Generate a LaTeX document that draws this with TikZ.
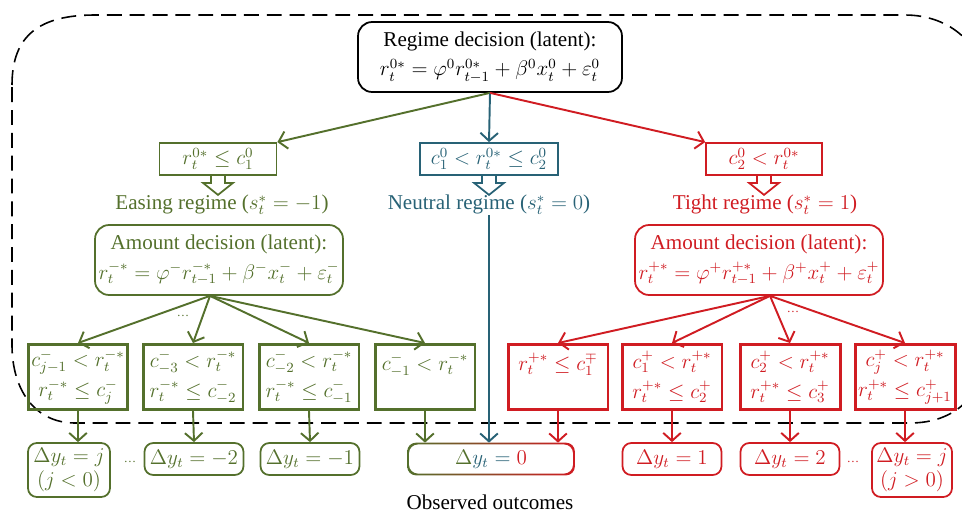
\documentclass[tikz,border=0pt]{standalone}
\usepackage{fontspec}
\setmainfont{Liberation Serif}
\usetikzlibrary{arrows.meta,calc}
\definecolor{easing}{RGB}{84,112,44}
\definecolor{neutral}{RGB}{40,98,118}
\definecolor{tight}{RGB}{208,28,34}
\tikzset{
	txt/.style={font=\fontsize{12pt}{17pt}\selectfont, inner sep=0pt, align=center},
	latent/.style={txt, draw, line width=1pt, rounded corners=8pt, minimum width=4.96cm, minimum height=1.4cm},
	thr/.style={txt, draw, line width=1pt, minimum height=0.64cm},
	cut/.style={txt, draw, line width=1.7pt, minimum width=2cm, minimum height=1.3cm},
	outc/.style={txt, draw, line width=1pt, rounded corners=5pt, minimum width=1.98cm, minimum height=0.64cm},
	dots/.style={font=\fontsize{7pt}{8pt}\selectfont, inner sep=0pt},
	conn/.style={-{Straight Barb[length=4.5pt,width=10pt]}, line width=1.1pt},
}
\begin{document}
\begin{tikzpicture}[x=0.02cm, y=-0.02cm]
		\useasboundingbox (0,0) rectangle (962,514);
		% latent part
			\draw [dash pattern=on 8.5pt off 4.5pt, line width=0.9pt] (12,85) .. controls (12,35) and (40,15) .. (95,15) -- (905,15) .. controls (950,15) and (985,45) .. (985,90) -- (985,350) .. controls (985,395) and (955,423) .. (910,423) -- (75,423) .. controls (35,423) and (12,390) .. (12,345) -- cycle;
		% regime decision
			\node [latent, minimum width=5.28cm] (regime) at (490,57) {Regime decision (latent):\\$r_t^{0*}=\varphi^0 r_{t-1}^{0*}+\beta^0 x_t^0+\varepsilon_t^0$};
			\node [thr, easing, minimum width=2.34cm] (es-thr) at (218,159) {$r_t^{0*}\le c_1^0$};
			\node [thr, neutral, minimum width=2.76cm] (ne-thr) at (489,159) {$c_1^0<r_t^{0*}\le c_2^0$};
			\node [thr, tight, minimum width=2.32cm] (ti-thr) at (764,159) {$c_2^0<r_t^{0*}$};
			\draw [conn, easing] (regime.south) -- (es-thr.north east);
			\draw [conn, neutral] (regime.south) -- (ne-thr.north);
			\draw [conn, tight] (regime.south) -- (ti-thr.north west);
		% regimes
			\node [txt, easing] (es-lab) at (222,205) {Easing regime ($s_t^*=-1$)};
			\node [txt, neutral] (ne-lab) at (489,205) {Neutral regime ($s_t^*=0$)};
			\node [txt, tight] (ti-lab) at (765,205) {Tight regime ($s_t^*=1$)};
			\foreach \n/\c in {es/easing,ne/neutral,ti/tight}
				\draw [\c, line width=1pt] ($(\n-thr.south)+(-7,0)$) -- ++(0,7) -- ++(-8,0) -- ++(15,12) -- ++(15,-12) -- ++(-8,0) -- ++(0,-7);
		% amount decisions
			\node [latent, easing] (es-amt) at (219,260) {Amount decision (latent):\\$r_t^{-*}=\varphi^- r_{t-1}^{-*}+\beta^- x_t^-+\varepsilon_t^-$};
			\node [latent, tight] (ti-amt) at (759,260) {Amount decision (latent):\\$r_t^{+*}=\varphi^+ r_{t-1}^{+*}+\beta^+ x_t^++\varepsilon_t^+$};
		% thresholds
			\node [cut, easing] (es-c1) at (78,377) {$c_{j-1}^-<r_t^{-*}$\\$r_t^{-*}\le c_j^-$};
			\node [cut, easing] (es-c2) at (193,377) {$c_{-3}^-<r_t^{-*}$\\$r_t^{-*}\le c_{-2}^-$};
			\node [cut, easing] (es-c3) at (309,377) {$c_{-2}^-<r_t^{-*}$\\$r_t^{-*}\le c_{-1}^-$};
			\node [cut, easing] (es-c4) at (425,377) {$c_{-1}^-<r_t^{-*}$\\\mbox{}};
			\node [cut, tight] (ti-c1) at (558,377) {$r_t^{+*}\le c_1^{\mp}$\\\mbox{}};
			\node [cut, tight] (ti-c2) at (672,377) {$c_1^+<r_t^{+*}$\\$r_t^{+*}\le c_2^+$};
			\node [cut, tight] (ti-c3) at (790,377) {$c_2^+<r_t^{+*}$\\$r_t^{+*}\le c_3^+$};
			\node [cut, tight] (ti-c4) at (905,377) {$c_j^+<r_t^{+*}$\\$r_t^{+*}\le c_{j+1}^+$};
			\coordinate (es-fan) at ($(es-amt.south)+(-9,0)$);
			\coordinate (ti-fan) at ($(ti-amt.south)+(11,0)$);
			\foreach \i in {1,...,4} {
				\draw [conn, easing] (es-fan) -- (es-c\i.north);
				\draw [conn, tight] (ti-fan) -- (ti-c\i.north);
			}
			\node [dots, easing] (es-dots) at (183,316) {\dots};
			\node [dots, tight] (ti-dots) at (793,312) {\dots};
		% observed outcomes
			\node [outc, easing, minimum width=1.64cm, minimum height=1.08cm] (es-o1) at (69,470) {$\Delta y_t=j$\\[-3pt]$(j<0)$};
			\node [outc, easing] (es-o2) at (194,459) {$\Delta y_t=-2$};
			\node [outc, easing] (es-o3) at (310,459) {$\Delta y_t=-1$};
			\node [txt, minimum width=3.34cm, minimum height=0.64cm] (zero) at (491,459) {$\color{easing}\Delta\color{neutral}y_t=\color{tight}0$};
			\shade [left color=easing, middle color=neutral, right color=tight, even odd rule, rounded corners=5pt] (zero.south west) rectangle (zero.north east) ($(zero.south west)+(1.8,-1.8)$) rectangle ($(zero.north east)+(-1.8,1.8)$);
			\node [outc, tight] (ti-o1) at (672,459) {$\Delta y_t=1$};
			\node [outc, tight] (ti-o2) at (790,459) {$\Delta y_t=2$};
			\node [outc, tight, minimum width=1.6cm, minimum height=1.08cm] (ti-o3) at (912,470) {$\Delta y_t=j$\\[-3pt]$(j>0)$};
			\node [dots, easing] (es-odots) at (130,462) {\dots};
			\node [dots, tight] (ti-odots) at (853,462) {\dots};
			\draw [conn, easing] (es-c1.south) -- (es-c1.south |- es-o1.north);
			\draw [conn, easing] (es-c2.south) -- (es-o2.north);
			\draw [conn, easing] (es-c3.south) -- (es-o3.north);
			\draw [conn, easing] (es-c4.south) -- (es-c4.south |- zero.north);
			\draw [conn, neutral] (ne-lab.south) -- (ne-lab.south |- zero.north);
			\draw [conn, tight] (ti-c1.south) -- (ti-c1.south |- zero.north);
			\draw [conn, tight] (ti-c2.south) -- (ti-o1.north);
			\draw [conn, tight] (ti-c3.south) -- (ti-o2.north);
			\draw [conn, tight] (ti-c4.south) -- (ti-c4.south |- ti-o3.north);
			\node [txt] (observed) at (490,502) {Observed outcomes};
	\end{tikzpicture}
\end{document}
